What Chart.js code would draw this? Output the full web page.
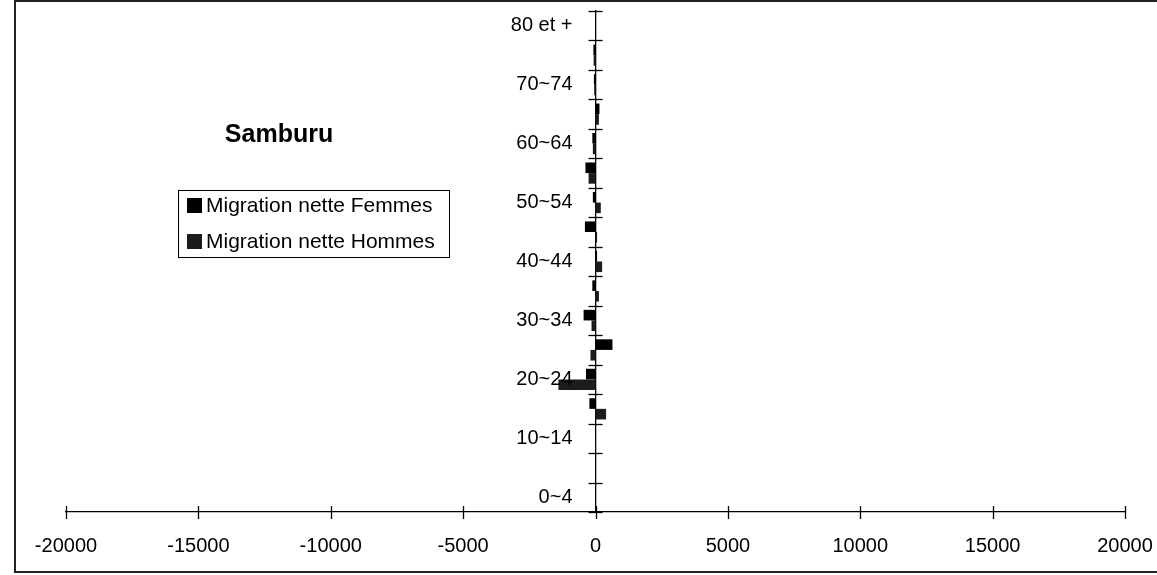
<!DOCTYPE html>
<html><head><meta charset="utf-8">
<script src="https://cdn.jsdelivr.net/npm/chart.js@4/dist/chart.umd.min.js"></script>
<style>
html,body{margin:0;padding:0;background:#fff;}
#wrap{position:relative;width:1157px;height:575px;}
#frame{position:absolute;left:14px;top:0;width:1143px;height:573px;border-left:2px solid #222;border-top:2px solid #222;border-bottom:2px solid #222;box-sizing:border-box;pointer-events:none;}
</style></head><body>
<div id="wrap"><canvas id="c" width="1157" height="575"></canvas><div id="frame"></div></div>
<script>
const ageGroups = ['0~4','5~9','10~14','15~19','20~24','25~29','30~34','35~39','40~44','45~49','50~54','55~59','60~64','65~69','70~74','75~79','80 et +'];
const femmes = [0, 0, -20, -230, -360, 640, -450, -120, 60, -400, -100, -380, -120, 150, -60, -80, 0];
const hommes = [0, 0, 10, 400, -1400, -190, -150, 130, 250, 60, 200, -260, -100, 130, -50, -70, 0];
const xTicks = [-20000, -15000, -10000, -5000, 0, 5000, 10000, 15000, 20000];
const seriesNames = ['Migration nette Femmes', 'Migration nette Hommes'];
const seriesColors = ['#000000', '#1c1c1c'];
const chartTitle = 'Samburu';
const FAMILY = "'Liberation Sans', Arial, sans-serif";

const crossTicks = {
  id: 'crossTicks',
  afterDatasetsDraw(chart) {
    const {ctx, chartArea, scales: {x, y}} = chart;
    ctx.save();
    ctx.strokeStyle = '#000';
    ctx.lineWidth = 1.3;
    const x0 = x.getPixelForValue(0);
    xTicks.forEach(v => {
      const px = Math.round(x.getPixelForValue(v)) + 0.5;
      ctx.beginPath(); ctx.moveTo(px, chartArea.bottom - 6); ctx.lineTo(px, chartArea.bottom + 7); ctx.stroke();
    });
    for (let i = 0; i <= ageGroups.length; i++) {
      const py = Math.round(y.getPixelForValue(i - 0.5)) + 0.5;
      ctx.beginPath(); ctx.moveTo(x0 - 7, py); ctx.lineTo(x0 + 7, py); ctx.stroke();
    }
    ctx.fillStyle = '#000';
    ctx.font = '20px ' + FAMILY;
    ctx.textAlign = 'right';
    ctx.textBaseline = 'middle';
    y.getLabels().forEach((lab, i) => {
      if (i % 2 === 0) ctx.fillText(lab, x0 - 23, y.getPixelForValue(i));
    });
    ctx.restore();
  }
};

const titleLegend = {
  id: 'titleLegend',
  afterDraw(chart) {
    const ctx = chart.ctx;
    ctx.save();
    ctx.fillStyle = '#000';
    ctx.font = 'bold 25px ' + FAMILY;
    ctx.textAlign = 'center';
    ctx.textBaseline = 'middle';
    ctx.fillText(chartTitle, 279, 135);
    ctx.strokeStyle = '#000';
    ctx.lineWidth = 1;
    ctx.strokeRect(178.5, 190.5, 271, 67);
    ctx.font = '21px ' + FAMILY;
    ctx.textAlign = 'left';
    chart.data.datasets.forEach((ds, i) => {
      ctx.fillStyle = ds.backgroundColor;
      ctx.fillRect(187, 198 + 36 * i, 15, 15);
      ctx.fillStyle = '#000';
      ctx.fillText(ds.label, 206, 206 + 36 * i);
    });
    ctx.restore();
  }
};

new Chart(document.getElementById('c'), {
  type: 'bar',
  data: {
    labels: ageGroups,
    datasets: [
      {label: seriesNames[0], data: femmes, backgroundColor: seriesColors[0], categoryPercentage: 0.72, barPercentage: 1},
      {label: seriesNames[1], data: hommes, backgroundColor: seriesColors[1], categoryPercentage: 0.72, barPercentage: 1}
    ]
  },
  options: {
    indexAxis: 'y',
    responsive: false,
    animation: false,
    layout: {padding: {left: 66, right: 32, top: 11, bottom: 2}},
    plugins: {legend: {display: false}, title: {display: false}, tooltip: {enabled: false}},
    scales: {
      x: {
        type: 'linear', min: -20000, max: 20000,
        afterBuildTicks: s => { s.ticks = xTicks.map(v => ({value: v})); },
        afterFit: s => { s.paddingLeft = 0; s.paddingRight = 0; },
        grid: {display: false, drawTicks: true, tickLength: 7},
        border: {display: true, color: '#000', width: 1.3},
        ticks: {padding: 15, color: '#000', font: {size: 20, family: FAMILY}, maxRotation: 0, autoSkip: false,
          callback: v => String(v)}
      },
      y: {
        type: 'category', reverse: true, position: {x: 0}, offset: true,
        grid: {display: false, drawTicks: false, offset: true},
        border: {display: true, color: '#000', width: 1.3},
        ticks: {display: false}
      }
    }
  },
  plugins: [crossTicks, titleLegend]
});
</script>
</body></html>
